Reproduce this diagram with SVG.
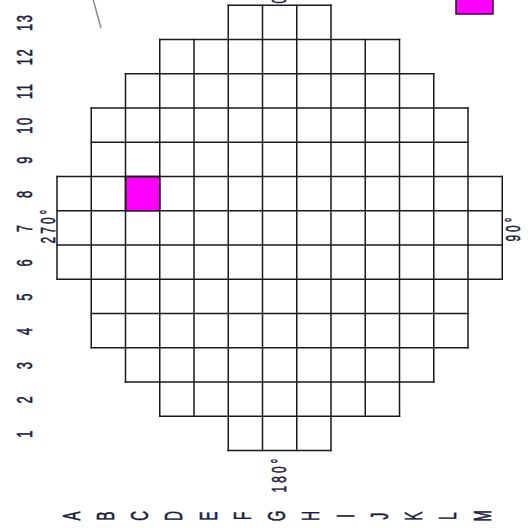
<svg xmlns="http://www.w3.org/2000/svg" width="531" height="528" viewBox="0 0 531 528">
<style>
.grid{fill:none;stroke:#1a1a1a;stroke-width:1.5;stroke-linecap:square}
.mag{fill:#ff00ff;stroke:#1a1a1a;stroke-width:1.5}
.lbl{font-family:"Liberation Sans",Arial,sans-serif;fill:#1c1c3e;stroke:#1c1c3e;stroke-width:0.35;text-anchor:middle}
.num{font-size:13px;letter-spacing:1.5px}
.let{font-size:13.5px}
.deg{font-size:12px;letter-spacing:3px}
</style>
<rect width="531" height="528" fill="#ffffff"/>
<g id="marks">
<rect id="cell-C8" class="mag" x="125.5" y="176.45" width="34.25" height="34.25"/>
<rect id="legend-box" class="mag" x="456" y="-20" width="37" height="34"/>
<line id="pointer" x1="93.3" y1="0" x2="101" y2="28.3" stroke="#8a8a8a" stroke-width="1.5"/>
</g>
<g id="grid">
<path class="grid" d="M228.25 5.2H331M159.75 39.45H399.5M125.5 73.7H433.75M91.25 107.95H468M91.25 142.2H468M57 176.45H502.25M57 210.7H502.25M57 244.95H502.25M57 279.2H502.25M91.25 313.45H468M91.25 347.7H468M125.5 381.95H433.75M159.75 416.2H399.5M228.25 450.45H331"/>
<path class="grid" d="M57 176.45V279.2M91.25 107.95V347.7M125.5 73.7V381.95M159.75 39.45V416.2M194 39.45V416.2M228.25 5.2V450.45M262.5 5.2V450.45M296.75 5.2V450.45M331 5.2V450.45M365.25 39.45V416.2M399.5 39.45V416.2M433.75 73.7V381.95M468 107.95V347.7M502.25 176.45V279.2"/>
</g>
<g id="row-labels" class="lbl num">
<text transform="translate(32,22.33) rotate(-90) scale(1,1.7)">13</text>
<text transform="translate(32,56.58) rotate(-90) scale(1,1.7)">12</text>
<text transform="translate(32,90.83) rotate(-90) scale(1,1.7)">11</text>
<text transform="translate(32,125.08) rotate(-90) scale(1,1.7)">10</text>
<text transform="translate(32,159.33) rotate(-90) scale(1,1.7)">9</text>
<text transform="translate(32,193.58) rotate(-90) scale(1,1.7)">8</text>
<text transform="translate(32,227.83) rotate(-90) scale(1,1.7)">7</text>
<text transform="translate(32,262.08) rotate(-90) scale(1,1.7)">6</text>
<text transform="translate(32,296.33) rotate(-90) scale(1,1.7)">5</text>
<text transform="translate(32,330.58) rotate(-90) scale(1,1.7)">4</text>
<text transform="translate(32,364.83) rotate(-90) scale(1,1.7)">3</text>
<text transform="translate(32,399.08) rotate(-90) scale(1,1.7)">2</text>
<text transform="translate(32,433.33) rotate(-90) scale(1,1.7)">1</text>
</g>
<g id="col-labels" class="lbl let">
<text transform="translate(79.6,516) rotate(-90) scale(1,1.75)">A</text>
<text transform="translate(113.9,516) rotate(-90) scale(1,1.75)">B</text>
<text transform="translate(148.1,516) rotate(-90) scale(1,1.75)">C</text>
<text transform="translate(182.4,516) rotate(-90) scale(1,1.75)">D</text>
<text transform="translate(216.6,516) rotate(-90) scale(1,1.75)">E</text>
<text transform="translate(250.9,516) rotate(-90) scale(1,1.75)">F</text>
<text transform="translate(285.1,516) rotate(-90) scale(1,1.75)">G</text>
<text transform="translate(319.4,516) rotate(-90) scale(1,1.75)">H</text>
<text transform="translate(353.6,516) rotate(-90) scale(1,1.75)">I</text>
<text transform="translate(387.9,516) rotate(-90) scale(1,1.75)">J</text>
<text transform="translate(422.1,516) rotate(-90) scale(1,1.75)">K</text>
<text transform="translate(456.4,516) rotate(-90) scale(1,1.75)">L</text>
<text transform="translate(490.6,516) rotate(-90) scale(1,1.75)">M</text>
</g>
<g id="angle-labels" class="lbl deg">
<text transform="translate(55,225) rotate(-90) scale(1,1.75)">270°</text>
<text transform="translate(520,228) rotate(-90) scale(1,1.75)">90°</text>
<text transform="translate(286,474) rotate(-90) scale(1,1.75)">180°</text>
<text transform="translate(285.5,3.5) rotate(-90) scale(1,1.75)" style="text-anchor:start">0°</text>
</g>
</svg>
